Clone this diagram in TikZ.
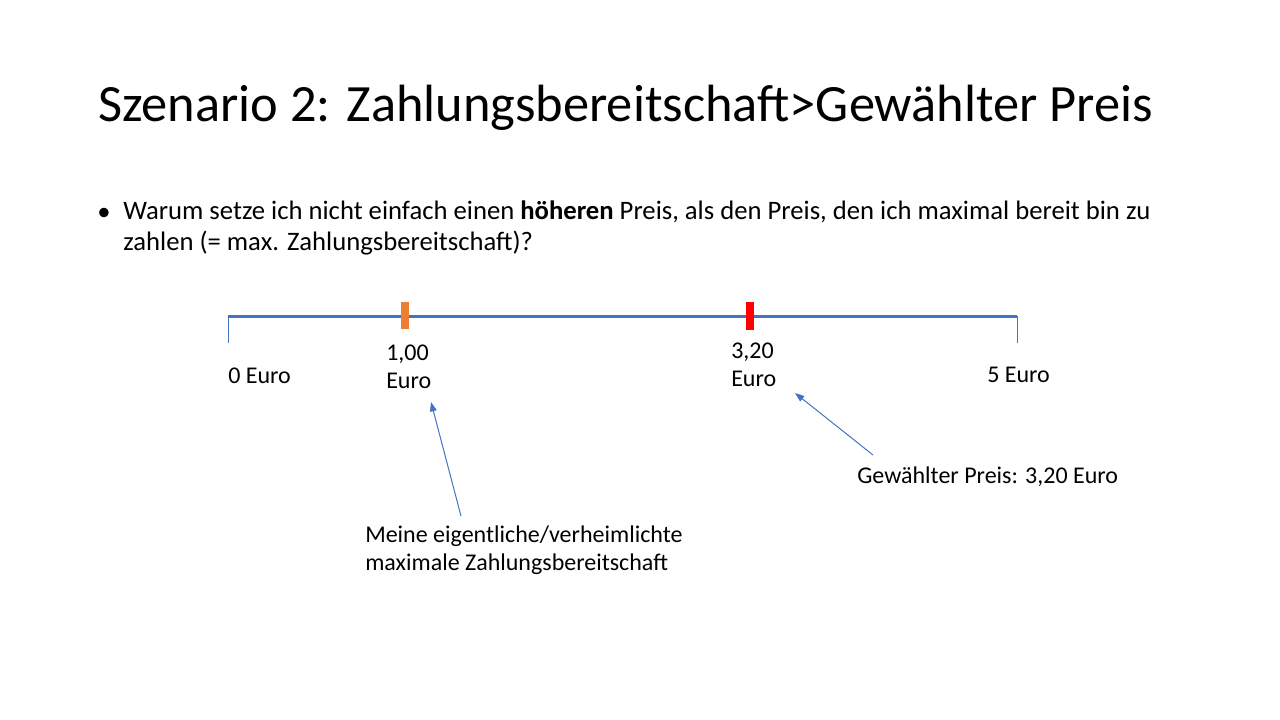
\documentclass[tikz,border=0pt]{standalone}
\usepackage{fontspec}
\setmainfont{Carlito}
\usepackage{tikz}
\usetikzlibrary{positioning,arrows.meta}
\definecolor{axisblue}{HTML}{4472C4}
\definecolor{markorange}{HTML}{ED7D31}
\definecolor{markred}{HTML}{FF0000}
\tikzstyle{label}  = [anchor=base west, inner sep=0pt, font=\fontsize{18}{22}\selectfont]
\tikzstyle{note}   = [anchor=base west, inner sep=0pt, align=left, font=\fontsize{18}{20.3}\selectfont]
\tikzstyle{arrow}  = [axisblue, line width=0.75pt, -{Triangle[length=7pt,width=5pt]}]

\begin{document}
\begin{tikzpicture}[x=0.75pt, y=-0.75pt]
        \useasboundingbox (0,0) rectangle (1280,720);

        % title and bullet
        \node[anchor=base west, inner sep=0pt, font=\fontsize{39.3}{47}\selectfont] (title) at (98,122)
            {Szenario 2: Zahlungsbereitschaft>Gewählter Preis};
        \node[anchor=base west, inner sep=0pt, font=\fontsize{20}{24}\selectfont] (dot) at (97,220) {•};
        \node[anchor=base west, inner sep=0pt, align=left, font=\fontsize{20}{22.8}\selectfont] (bullet) at (123,250)
            {Warum setze ich nicht einfach einen \textbf{höheren} Preis, als den Preis, den ich maximal bereit bin zu\\
             zahlen (= max. Zahlungsbereitschaft)?};

        % number line
        \coordinate (zero) at (228,316);
        \coordinate (five) at (1017,316);
        \draw[axisblue, line width=2.25pt] (zero) -- (five);
        \draw[axisblue, line width=0.75pt] (zero) -- ++(0,27);
        \draw[axisblue, line width=0.75pt] (five) -- ++(0,27);
        \fill[markorange] (401,302) rectangle (409,329);
        \fill[markred] (746,302) rectangle (754,330);

        \node[label] (l0) at (228,383) {0 Euro};
        \node[label, align=left, font=\fontsize{18}{21}\selectfont] (l1) at (386,388) {1,00\\Euro};
        \node[label, align=left, font=\fontsize{18}{21}\selectfont] (l32) at (731,386) {3,20\\Euro};
        \node[label] (l5) at (987,382) {5 Euro};

        % notes
        \node[note] (maxpay) at (365,570) {Meine eigentliche/verheimlichte\\maximale Zahlungsbereitschaft};
        \node[label] (chosen) at (857,483) {Gewählter Preis: 3,20 Euro};

        \coordinate (tip1) at (431,402);
        \coordinate (tip2) at (795,393);
        \draw[arrow] (461,516) -- (tip1);
        \draw[arrow] (873,455) -- (tip2);
    \end{tikzpicture}
\end{document}
